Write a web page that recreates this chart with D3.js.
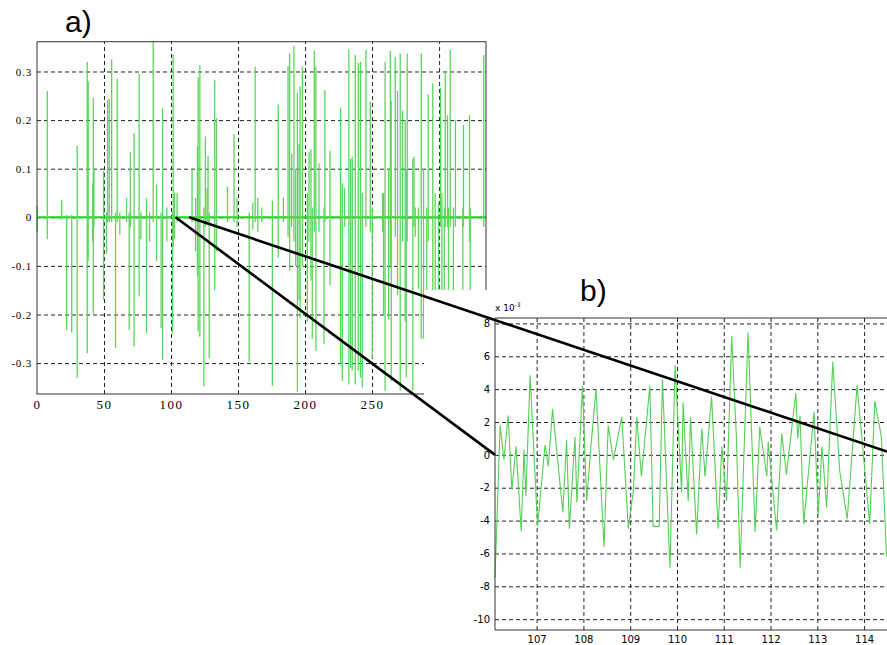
<!DOCTYPE html>
<html>
<head>
<meta charset="utf-8">
<script src="https://cdn.jsdelivr.net/npm/d3@7"></script>
<style>
body { margin: 0; background: #fff; }
.grid line { stroke: #222; stroke-dasharray: 4,3; }
.frame { fill: none; stroke: #333; stroke-width: 1; }
</style>
</head>
<body>
<script>
// a) whole record, every spike as [time, peak, trough]
const spikesA = [
    [0.2, 0.023, -0.03], [7.7, 0.26, -0.045], [18.4, 0.036, -0.005], [22.1, 0.005, -0.232],
    [25.9, 0.005, -0.237], [30, 0.147, -0.331], [37.5, 0.32, -0.28], [38.2, 0.28, -0.09],
    [41.5, 0.07, -0.05], [42, 0.246, -0.198], [42.5, 0.1, -0.02], [49.7, 0.095, -0.17],
    [51.9, 0.01, -0.075], [52.7, 0.241, -0.01], [53.9, 0.244, -0.01], [55.7, 0.325, -0.01],
    [58.6, 0.01, -0.269], [59.8, 0.285, -0.01], [61.8, 0.01, -0.036], [66.8, 0.04, -0.01],
    [68.8, 0.01, -0.232], [69.7, 0.134, -0.02], [72.4, 0.173, -0.266], [76.2, 0.295, -0.163],
    [77.5, 0.01, -0.045], [81.7, 0.04, -0.239], [84, 0.01, -0.05], [86.7, 0.362, -0.01],
    [89.2, 0.067, -0.09], [92.6, 0.01, -0.228], [93.7, 0.224, -0.294], [96.9, 0.02, -0.05],
    [101.1, 0.01, -0.239], [101.6, 0.335, -0.06], [102.6, 0.05, -0.045], [104.5, 0.05, -0.01],
    [115.7, 0.1, -0.01], [118.3, 0.04, -0.07], [119.7, 0.145, -0.12], [120.2, 0.288, -0.235],
    [121.5, 0.313, -0.246], [124.5, 0.02, -0.348], [125.6, 0.166, -0.02], [126.9, 0.06, -0.01],
    [127.6, 0.126, -0.01], [128.5, 0.01, -0.29], [132.6, 0.282, -0.15], [133.9, 0.204, -0.07],
    [142.1, 0.063, -0.01], [147, 0.171, -0.01], [149.3, 0.04, -0.02],
    [158.3, 0.01, -0.297], [161, 0.03, -0.025], [162.8, 0.31, -0.01], [164.7, 0.04, -0.03],
    [167.7, 0.02, -0.01], [175.6, 0.034, -0.347], [180, 0.232, -0.083], [183.8, 0.04, -0.01],
    [187.3, 0.311, -0.04], [188.5, 0.337, -0.11], [190, 0.13, -0.02], [191.7, 0.353, -0.05],
    [193, 0.1, -0.1], [194.3, 0.255, -0.36], [195.5, 0.15, -0.17], [196.3, 0.269, -0.207],
    [198, 0.31, -0.1], [201.7, 0.05, -0.215], [202.9, 0.135, -0.05], [204.4, 0.14, -0.13],
    [205.4, 0.02, -0.25], [206.9, 0.343, -0.03], [208.1, 0.31, -0.275], [210.4, 0.111, -0.03],
    [214.1, 0.02, -0.26], [214.8, 0.262, -0.01], [218.6, 0.137, -0.14], [226.5, 0.226, -0.303],
    [227.8, 0.07, -0.337], [229.5, 0.06, -0.02], [232.7, 0.346, -0.344], [234, 0.12, -0.31],
    [235.2, 0.125, -0.315], [237.5, 0.334, -0.344], [239.7, 0.318, -0.316], [241.4, 0.32, -0.33],
    [242.7, 0.05, -0.35], [245.4, 0.344, -0.02], [248.7, 0.238, -0.03], [250.1, 0.02, -0.29],
    [257.8, 0.05, -0.03], [258.6, 0.05, -0.2], [259.7, 0.32, -0.357], [262.3, 0.1, -0.21],
    [263.6, 0.342, -0.1], [264.3, 0.24, -0.337], [267.3, 0.33, -0.04], [269, 0.26, -0.16],
    [271, 0.337, -0.357], [272.7, 0.22, -0.05], [274.7, 0.2, -0.215], [275.5, 0.1, -0.33],
    [276.2, 0.337, -0.05], [280.4, 0.12, -0.357], [281.3, 0.125, -0.02], [282.2, 0.02, -0.04],
    [284.6, 0.02, -0.147], [286.7, 0.337, -0.25], [288.4, 0.1, -0.25], [290.8, 0.02, -0.25],
    [291.9, 0.253, -0.05], [295.3, 0.276, -0.25], [297.1, 0.05, -0.25], [299.6, 0.03, -0.25],
    [301.1, 0.266, -0.02], [302.1, 0.05, -0.25], [303.9, 0.02, -0.25], [304.6, 0.3, -0.02],
    [306.3, 0.21, -0.02], [307, 0.02, -0.25], [308.3, 0.344, -0.02], [310.7, 0.02, -0.25],
    [312.2, 0.2, -0.02], [317.7, 0.02, -0.25], [318.2, 0.19, -0.02], [322.7, 0.21, -0.05],
    [323.2, 0.02, -0.25], [333.3, 0.334, -0.02]
];
const ticksAX = [0, 50, 100, 150, 200, 250, 300];
const ticksAY = [-0.3, -0.2, -0.1, 0, 0.1, 0.2, 0.3];

// b) zoomed part, values in units of 10^-3
const timeB = [
    106.11, 106.22, 106.30, 106.39, 106.47, 106.56, 106.67, 106.73, 106.77, 106.86,
    107.02, 107.18, 107.25, 107.34, 107.56, 107.64, 107.70, 107.82, 107.86, 107.98,
    108.07, 108.16, 108.27, 108.44, 108.53, 108.64, 108.82, 108.96, 109.07, 109.14,
    109.24, 109.42, 109.49, 109.62, 109.69, 109.85, 109.96, 110.10, 110.13,
    110.24, 110.29, 110.42, 110.53, 110.60, 110.74, 110.88, 110.96, 111.06, 111.17,
    111.27, 111.35, 111.52, 111.67, 111.77, 111.92, 111.95, 112.13, 112.24, 112.34,
    112.54, 112.58, 112.63, 112.71, 112.93, 113.02, 113.10, 113.20, 113.33, 113.48,
    113.64, 113.85, 114.12, 114.23, 114.37, 114.48
];
const valueB = [
    -7.5, 1.8, -0.3, 2.4, -2.1, 0.5, -4.66, 0.3, -2.5, 4.85,
    -4.35, 0.6, -0.7, 2.8, -3.5, 0.9, -4.5, 1.1, -2.9, 4.2,
    -2.8, 0.5, 4.0, -5.6, 1.8, -0.3, 2.3, -4.5, -2.1, 2.3,
    -1.3, 4.2, -4.35, -4.35, 4.6, -6.9, 5.45, -2.3, 3.2,
    -2.8, 2.3, -4.85, 1.6, -1.3, 3.56, -4.5, 0.5, -2.8, 7.24,
    1.1, -6.9, 7.44, -4.7, 1.7, -1.3, 0.8, -4.6, 1.3, -1.2,
    3.76, 1.0, 2.4, -4.2, 2.6, -3.7, 0.5, -3.2, 5.66, -1.0,
    -3.9, 4.23, -4.2, 3.27, 1.1, -6.2
];
const ticksBX = [107, 108, 109, 110, 111, 112, 113, 114];
const ticksBY = [-10, -8, -6, -4, -2, 0, 2, 4, 6, 8];

// zoom connectors: start time on a), end point on b)
const zoomFromA = [103.4, 113.5];
const zoomToB = [[106.11, 0], [114.49, 0.2]];

const width = 887;
const height = 645;

const svg = d3.select('body')
    .append('svg')
    .attr('width', width)
    .attr('height', height);

// ---------- a) ----------
const boxA = {left: 37, top: 41.7, right: 486, bottom: 394};
const xA = d3.scaleLinear().domain([0, 335]).range([boxA.left, boxA.right]);
const yA = d3.scaleLinear().domain([-0.3636, 0.3613]).range([boxA.bottom, boxA.top]);

const gA = svg.append('g');

gA.append('g')
    .attr('class', 'grid')
    .attr('transform', `translate(0,${boxA.bottom})`)
    .call(d3.axisBottom(xA).tickValues(ticksAX.slice(1)).tickSize(-(boxA.bottom - boxA.top)).tickFormat(''))
    .call(g => g.select('.domain').remove());

gA.append('g')
    .attr('class', 'grid')
    .attr('transform', `translate(${boxA.left},0)`)
    .call(d3.axisLeft(yA).tickValues(ticksAY).tickSize(-(boxA.right - boxA.left)).tickFormat(''))
    .call(g => g.select('.domain').remove());

// zero level of the record
gA.append('line')
    .attr('x1', xA(0)).attr('x2', xA(335))
    .attr('y1', yA(0)).attr('y2', yA(0))
    .attr('stroke', '#1fd21f')
    .attr('stroke-width', 2);

gA.selectAll('.spike')
    .data(spikesA)
  .enter()
  .append('line')
    .classed('spike', true)
    .attr('x1', d => xA(d[0]))
    .attr('x2', d => xA(d[0]))
    .attr('y1', d => yA(d[1]))
    .attr('y2', d => yA(d[2]))
    .attr('stroke', '#5ad65a')
    .attr('stroke-width', 1.3);

gA.append('rect')
    .attr('class', 'frame')
    .attr('x', boxA.left).attr('y', boxA.top)
    .attr('width', boxA.right - boxA.left)
    .attr('height', boxA.bottom - boxA.top);

gA.append('g')
    .attr('transform', `translate(0,${boxA.bottom})`)
    .call(d3.axisBottom(xA).tickValues(ticksAX).tickSize(0).tickPadding(6).tickFormat(d => String(d)))
    .call(g => g.select('.domain').remove())
    .selectAll('text')
    .attr('font-family', 'Liberation Serif')
    .attr('font-size', 13)
    .attr('letter-spacing', 1.5)
    .attr('fill', '#000');

gA.append('g')
    .attr('transform', `translate(${boxA.left},0)`)
    .call(d3.axisLeft(yA).tickValues(ticksAY).tickSize(0).tickPadding(5).tickFormat(d => String(d)))
    .call(g => g.select('.domain').remove())
    .selectAll('text')
    .attr('font-family', 'Liberation Serif')
    .attr('font-size', 11)
    .attr('letter-spacing', 0.8)
    .attr('fill', '#000');

svg.append('text')
    .attr('x', 65).attr('y', 32)
    .attr('font-family', 'Liberation Sans')
    .attr('font-size', 30)
    .text('a)');

// ---------- b) ----------
const boxB = {left: 495, top: 318, right: 887, bottom: 630};
const xB = d3.scaleLinear().domain([106.11, 114.49]).range([boxB.left, boxB.right]);
const yB = d3.scaleLinear().domain([-10.66, 8.33]).range([boxB.bottom, boxB.top]);

// white panel of b) lies over the corner of a)
svg.append('rect')
    .attr('x', 424).attr('y', 290)
    .attr('width', width - 424).attr('height', height - 290)
    .attr('fill', '#fff');

const gB = svg.append('g');

gB.append('g')
    .attr('class', 'grid')
    .attr('transform', `translate(0,${boxB.bottom})`)
    .call(d3.axisBottom(xB).tickValues(ticksBX).tickSize(-(boxB.bottom - boxB.top)).tickFormat(''))
    .call(g => g.select('.domain').remove());

gB.append('g')
    .attr('class', 'grid')
    .attr('transform', `translate(${boxB.left},0)`)
    .call(d3.axisLeft(yB).tickValues(ticksBY).tickSize(-(boxB.right - boxB.left)).tickFormat(''))
    .call(g => g.select('.domain').remove());

const lineB = d3.line()
    .x((d, i) => xB(timeB[i]))
    .y(d => yB(d));

gB.append('path')
    .datum(valueB)
    .attr('d', lineB)
    .attr('fill', 'none')
    .attr('stroke', '#55cf55')
    .attr('stroke-width', 1.1);

gB.append('path')
    .attr('class', 'frame')
    .attr('d', `M${boxB.right},${boxB.top}H${boxB.left}V${boxB.bottom}H${boxB.right}`);

gB.append('g')
    .attr('transform', `translate(0,${boxB.bottom})`)
    .call(d3.axisBottom(xB).tickValues(ticksBX).tickSize(0).tickPadding(6))
    .call(g => g.select('.domain').remove())
    .selectAll('text')
    .attr('font-family', 'DejaVu Sans')
    .attr('font-size', 10)
    .attr('fill', '#000');

gB.append('g')
    .attr('transform', `translate(${boxB.left},0)`)
    .call(d3.axisLeft(yB).tickValues(ticksBY).tickSize(0).tickPadding(5).tickFormat(d => String(d)))
    .call(g => g.select('.domain').remove())
    .selectAll('text')
    .attr('font-family', 'DejaVu Sans')
    .attr('font-size', 10)
    .attr('fill', '#000');

const expo = svg.append('text')
    .attr('x', 495).attr('y', 311)
    .attr('font-family', 'DejaVu Sans')
    .attr('font-size', 9);
expo.append('tspan').text('x 10');
expo.append('tspan').attr('dy', -4).attr('font-size', 6).text('-3');

svg.append('text')
    .attr('x', 580).attr('y', 301)
    .attr('font-family', 'Liberation Sans')
    .attr('font-size', 30)
    .text('b)');

// ---------- connectors ----------
svg.selectAll('.connector')
    .data(zoomFromA)
  .enter()
  .append('line')
    .classed('connector', true)
    .attr('x1', d => xA(d))
    .attr('y1', yA(0))
    .attr('x2', (d, i) => xB(zoomToB[i][0]))
    .attr('y2', (d, i) => yB(zoomToB[i][1]))
    .attr('stroke', '#000')
    .attr('stroke-width', 2.6);
</script>
</body>
</html>
